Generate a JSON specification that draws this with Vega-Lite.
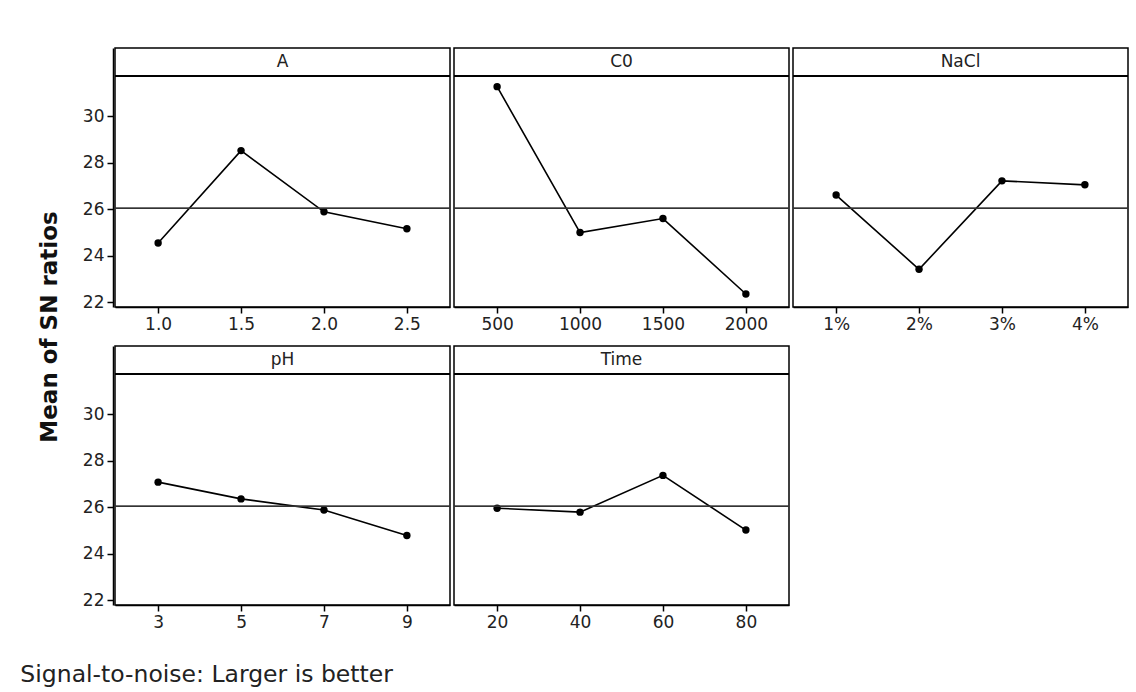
{
  "$schema": "https://vega.github.io/schema/vega-lite/v6.json",
  "background": "white",
  "padding": {"left": 20, "top": 47, "right": 5, "bottom": 5},
  "title": {
    "text": "Signal-to-noise: Larger is better",
    "orient": "bottom",
    "anchor": "start",
    "font": "DejaVu Sans",
    "fontSize": 23.5,
    "fontWeight": "normal",
    "color": "#222",
    "offset": 32,
    "dx": -19
  },
  "config": {
    "view": {"stroke": "black", "strokeWidth": 1.5, "fill": "white"},
    "axis": {
      "labelFont": "DejaVu Sans",
      "labelFontSize": 17,
      "labelColor": "#222",
      "domainColor": "black",
      "domainWidth": 1.5,
      "tickColor": "black",
      "tickWidth": 1.5,
      "tickSize": 6,
      "labelPadding": 3,
      "grid": false,
      "title": null
    }
  },
  "vconcat": [
    {
      "title": {
        "text": "Mean of SN ratios",
        "orient": "left",
        "anchor": "middle",
        "font": "DejaVu Sans",
        "fontSize": 23,
        "fontWeight": "bold",
        "color": "#111",
        "offset": 20,
        "dx": 12
      },
      "data": {
        "values": [
          {"factor": "A", "level": "1.0", "value": 24.55},
          {"factor": "A", "level": "1.5", "value": 28.52},
          {"factor": "A", "level": "2.0", "value": 25.89},
          {"factor": "A", "level": "2.5", "value": 25.16},
          {"factor": "C0", "level": "500", "value": 31.27},
          {"factor": "C0", "level": "1000", "value": 25.0},
          {"factor": "C0", "level": "1500", "value": 25.6},
          {"factor": "C0", "level": "2000", "value": 22.36},
          {"factor": "NaCl", "level": "1%", "value": 26.61},
          {"factor": "NaCl", "level": "2%", "value": 23.42},
          {"factor": "NaCl", "level": "3%", "value": 27.22},
          {"factor": "NaCl", "level": "4%", "value": 27.05},
          {"factor": "pH", "level": "3", "value": 27.08},
          {"factor": "pH", "level": "5", "value": 26.36},
          {"factor": "pH", "level": "7", "value": 25.88},
          {"factor": "pH", "level": "9", "value": 24.79},
          {"factor": "Time", "level": "20", "value": 25.96},
          {"factor": "Time", "level": "40", "value": 25.79},
          {"factor": "Time", "level": "60", "value": 27.37},
          {"factor": "Time", "level": "80", "value": 25.02}
        ]
      },
      "columns": 3,
      "spacing": {"row": 12, "column": 0},
      "facet": {
        "field": "factor",
        "type": "nominal",
        "sort": ["A", "C0", "NaCl", "pH", "Time"],
        "header": {
          "title": null,
          "labelOrient": "top",
          "labelPadding": -31,
          "labelFont": "DejaVu Sans",
          "labelFontSize": 17,
          "labelColor": "#222",
          "labelBaseline": "middle"
        }
      },
      "resolve": {"scale": {"x": "independent"}, "axis": {"x": "independent"}},
      "spec": {
        "width": 335,
        "height": 259,
        "encoding": {
          "y": {
            "field": "value",
            "type": "quantitative",
            "scale": {"domain": [21.8, 32.93], "nice": false, "zero": false},
            "axis": {"values": [22, 24, 26, 28, 30]}
          }
        },
        "layer": [
          {
            "mark": {"type": "line", "color": "black", "strokeWidth": 1.6, "point": {"filled": true, "color": "black", "size": 55, "opacity": 1}},
            "encoding": {
              "x": {
                "field": "level",
                "type": "ordinal",
                "sort": null,
                "scale": {"type": "point", "padding": 0.52},
                "axis": {"labelAngle": 0}
              }
            }
          },
          {
            "mark": {"type": "rule", "color": "#333", "strokeWidth": 1.3},
            "encoding": {"y": {"datum": 26.04, "type": "quantitative"}}
          },
          {
            "mark": {"type": "rule", "color": "black", "strokeWidth": 1.6},
            "encoding": {"y": {"datum": 31.72, "type": "quantitative"}}
          }
        ]
      }
    }
  ]
}
